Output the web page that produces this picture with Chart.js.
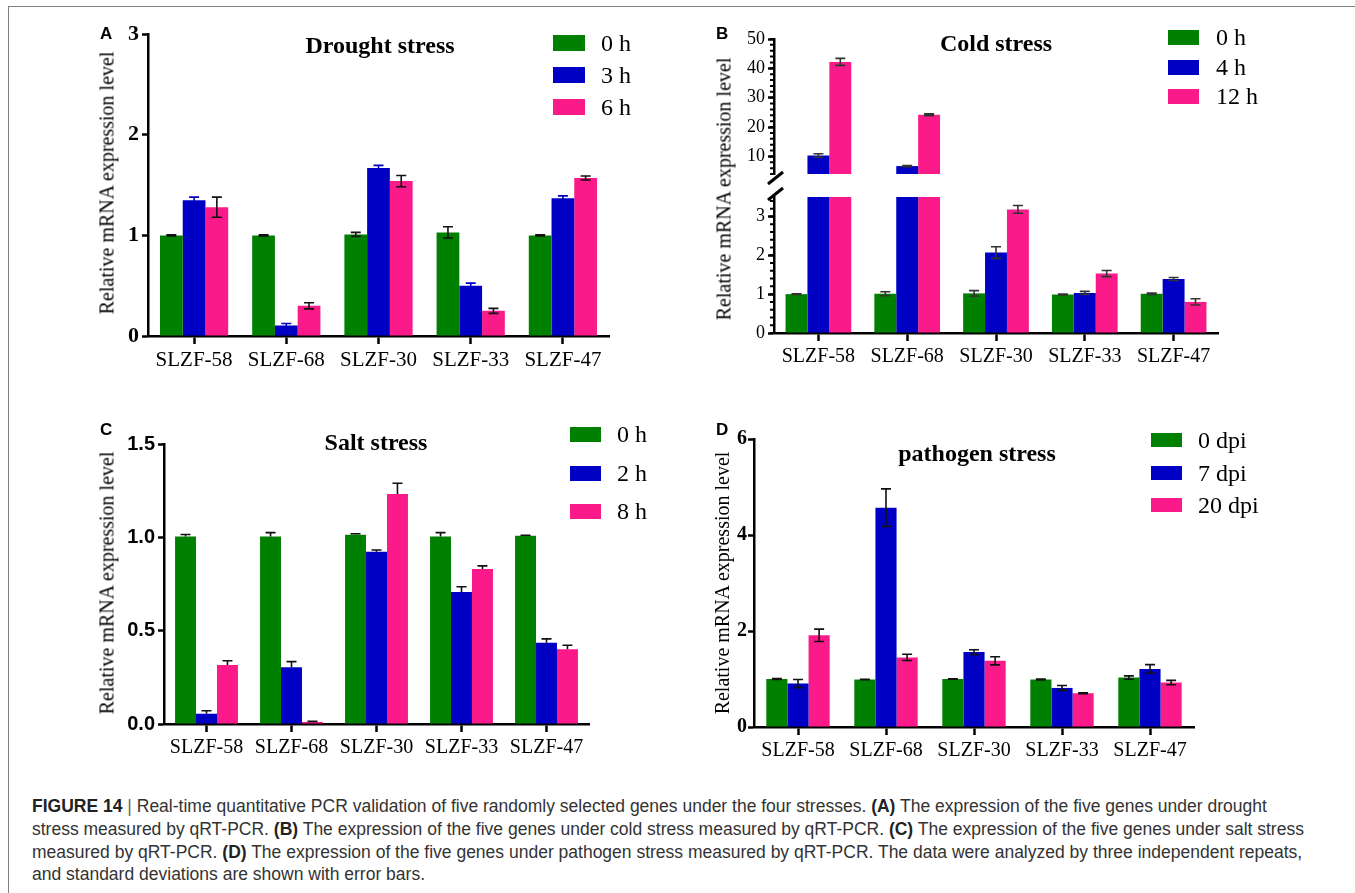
<!DOCTYPE html>
<html lang="en">
<head>
<meta charset="UTF-8">
<title>Figure 14 - qRT-PCR validation under four stresses</title>
<script src="https://cdn.jsdelivr.net/npm/chart.js"></script>
<style>
  body { margin: 0; background: #fff; }
  #fig { position: relative; width: 1355px; height: 893px; overflow: hidden; background: #fff; }
  #fig canvas { position: absolute; }
  .txt { position: absolute; white-space: nowrap; color: #000; }
  .letter { font: bold 17px "Liberation Sans", Arial, sans-serif; }
  .title { font: bold 24px "Liberation Serif", "Times New Roman", serif; transform: translate(-50%, -50%); }
  .ylab { font: 20px "Liberation Serif", "Times New Roman", serif; transform: translate(-50%, -50%) rotate(-90deg); }
  .leg { font: 24px "Liberation Serif", "Times New Roman", serif; transform: translateY(-50%); }
  .sw { position: absolute; }
  .rule { position: absolute; background: #808080; }
  #caption { position: absolute; left: 32px; top: 795px; font: 17.5px "Liberation Sans", Arial, sans-serif;
             line-height: 22.8px; color: #333; white-space: nowrap; }
  #caption b { color: #222; }
  #caption .pipe { color: #666; }
</style>
</head>
<body>
<div id="fig">
  <div class="rule" style="left:8px; top:6px; width:1347px; height:1px;"></div>
  <div class="rule" style="left:8px; top:6px; width:1px; height:887px;"></div>
  <div id="caption"><b>FIGURE 14</b> <span class="pipe">|</span> Real-time quantitative PCR validation of five randomly selected genes under the four stresses. <b>(A)</b> The expression of the five genes under drought<br>stress measured by qRT-PCR. <b>(B)</b> The expression of the five genes under cold stress measured by qRT-PCR. <b>(C)</b> The expression of the five genes under salt stress<br>measured by qRT-PCR. <b>(D)</b> The expression of the five genes under pathogen stress measured by qRT-PCR. The data were analyzed by three independent repeats,<br>and standard deviations are shown with error bars.</div>
</div>

<script>
// Genes on the x axis
const genes = ['SLZF-58', 'SLZF-68', 'SLZF-30', 'SLZF-33', 'SLZF-47'];

// (A) drought
const droughtLabels = ['0 h', '3 h', '6 h'];
const drought0h = [1.00, 1.00, 1.01, 1.03, 1.00];
const drought3h = [1.35, 0.105, 1.67, 0.50, 1.37];
const drought6h = [1.28, 0.30, 1.54, 0.25, 1.57];
const drought0hErr = [0.005, 0.005, 0.02, 0.056, 0.005];
const drought3hErr = [0.03, 0.02, 0.026, 0.026, 0.023];
const drought6hErr = [0.10, 0.03, 0.056, 0.025, 0.02];
const droughtTicks = [0, 1, 2, 3];

// (B) cold, broken y axis
const coldLabels = ['0 h', '4 h', '12 h'];
const cold0h = [1.00, 1.01, 1.02, 0.99, 1.01];
const cold4h = [10.3, 6.7, 2.07, 1.03, 1.39];
const cold12h = [42.2, 24.2, 3.18, 1.53, 0.80];
const cold0hErr = [0.01, 0.05, 0.07, 0.01, 0.02];
const cold4hErr = [0.6, 0.2, 0.15, 0.04, 0.04];
const cold12hErr = [1.2, 0.3, 0.1, 0.08, 0.08];
const coldHighTicks = [10, 20, 30, 40, 50];
const coldLowTicks = [0, 1, 2, 3];

// (C) salt
const saltLabels = ['0 h', '2 h', '8 h'];
const salt0h = [1.005, 1.005, 1.014, 1.005, 1.008];
const salt2h = [0.055, 0.304, 0.923, 0.707, 0.435];
const salt8h = [0.316, 0.011, 1.232, 0.831, 0.401];
const salt0hErr = [0.01, 0.02, 0.005, 0.02, 0.003];
const salt2hErr = [0.016, 0.03, 0.009, 0.028, 0.021];
const salt8hErr = [0.023, 0.003, 0.058, 0.016, 0.021];
const saltTicks = [0, 0.5, 1.0, 1.5];

// (D) pathogen
const pathLabels = ['0 dpi', '7 dpi', '20 dpi'];
const path0dpi = [1.00, 0.99, 1.00, 0.99, 1.03];
const path7dpi = [0.905, 4.57, 1.56, 0.814, 1.21];
const path20dpi = [1.91, 1.45, 1.38, 0.703, 0.926];
const path0dpiErr = [0.01, 0.005, 0.005, 0.01, 0.035];
const path7dpiErr = [0.085, 0.39, 0.05, 0.05, 0.09];
const path20dpiErr = [0.13, 0.066, 0.085, 0.01, 0.045];
const pathTicks = [0, 2, 4, 6];

const seriesColors = ['#008000', '#0000c4', '#fa1a8a'];
const serif = 'Liberation Serif, Times New Roman, serif';
const sans = 'Liberation Sans, Arial, sans-serif';

const fig = document.getElementById('fig');

function place(el, x, y) {
    el.style.left = x + 'px';
    el.style.top = y + 'px';
    fig.appendChild(el);
    return el;
}

function text(cls, str, x, y) {
    const el = document.createElement('div');
    el.className = 'txt ' + cls;
    el.textContent = str;
    return place(el, x, y);
}

function legend(labels, swX, rows, swW, swH, labelX) {
    labels.forEach((lab, i) => {
        const sw = document.createElement('div');
        sw.className = 'sw';
        sw.style.width = swW + 'px';
        sw.style.height = swH + 'px';
        sw.style.background = seriesColors[i];
        place(sw, swX, rows[i] - swH / 2);
        text('leg', lab, labelX, rows[i]);
    });
}

// error bars drawn from the y scale of each chart
const errorBars = {
    id: 'errorBars',
    afterDatasetsDraw(chart, args, opts) {
        const { ctx, chartArea: a } = chart;
        const y = chart.scales.y;
        ctx.save();
        ctx.beginPath();
        ctx.rect(a.left, a.top - 3, a.right - a.left, a.bottom - a.top + 3);
        ctx.clip();
        ctx.lineWidth = opts.width;
        chart.data.datasets.forEach((ds, di) => {
            const meta = chart.getDatasetMeta(di);
            ctx.strokeStyle = ds.errColor;
            meta.data.forEach((bar, i) => {
                const v = ds.data[i], e = ds.err[i];
                const yt = y.getPixelForValue(v + e);
                const yb = y.getPixelForValue(opts.upOnly ? v : v - e);
                const w = opts.cap / 2;
                ctx.beginPath();
                ctx.moveTo(bar.x, yt); ctx.lineTo(bar.x, yb);
                ctx.moveTo(bar.x - w, yt); ctx.lineTo(bar.x + w, yt);
                if (!opts.upOnly) { ctx.moveTo(bar.x - w, yb); ctx.lineTo(bar.x + w, yb); }
                ctx.stroke();
            });
        });
        ctx.restore();
    }
};

// minor ticks and axis-break slash for the cold panel
const axisExtras = {
    id: 'axisExtras',
    afterDraw(chart, args, opts) {
        const { ctx, chartArea: a } = chart;
        const y = chart.scales.y;
        ctx.save();
        ctx.strokeStyle = '#000';
        if (opts.minorStep) {
            ctx.lineWidth = 2;
            ctx.beginPath();
            for (let v = y.min; v <= y.max + 1e-9; v += opts.minorStep) {
                const py = y.getPixelForValue(v);
                ctx.moveTo(a.left - 4, py);
                ctx.lineTo(a.left, py);
            }
            ctx.stroke();
        }
        if (opts.breakMark) {
            const by = opts.breakMark === 'bottom' ? a.bottom + 4 : a.top - 3;
            ctx.lineWidth = 3;
            ctx.beginPath();
            ctx.moveTo(a.left - 6, by + 6);
            ctx.lineTo(a.left + 9, by - 6);
            ctx.stroke();
        }
        ctx.restore();
    }
};

function barChart(area, cfg) {
    const canvas = document.createElement('canvas');
    const padT = cfg.padT, padB = cfg.padB || 0, xH = cfg.xH || 0;
    const left = area.l - cfg.yW, top = area.t - padT;
    canvas.width = area.r + 8 - left;
    canvas.height = area.b + xH + padB - top;
    canvas.style.left = left + 'px';
    canvas.style.top = top + 'px';
    fig.appendChild(canvas);

    return new Chart(canvas, {
        type: 'bar',
        data: {
            labels: genes,
            datasets: cfg.series.map((s, i) => ({
                label: cfg.labels[i],
                data: s,
                err: cfg.errs[i],
                errColor: cfg.errColors ? cfg.errColors[i] : '#111',
                backgroundColor: seriesColors[i],
                borderWidth: 0,
                categoryPercentage: cfg.catPct,
                barPercentage: 1,
                clip: 0
            }))
        },
        options: {
            responsive: false,
            animation: false,
            events: [],
            layout: { padding: { top: padT, right: 8, bottom: padB, left: 0 } },
            plugins: {
                legend: { display: false },
                tooltip: { enabled: false },
                errorBars: { upOnly: !!cfg.upOnly, cap: 10, width: 1.6 },
                axisExtras: { minorStep: cfg.minorStep, breakMark: cfg.breakMark }
            },
            scales: {
                x: {
                    display: xH > 0,
                    offset: true,
                    afterFit: s => { s.height = xH; },
                    border: { display: true, color: '#000', width: 2.5 },
                    grid: { drawOnChartArea: false, offset: false, tickLength: 8, tickWidth: 2.5, tickColor: '#000' },
                    ticks: { color: '#000', padding: 4, maxRotation: 0, autoSkip: false,
                             font: { family: serif, size: cfg.xFont || 20 } }
                },
                y: {
                    min: cfg.min,
                    max: cfg.max,
                    afterFit: s => { s.width = cfg.yW; },
                    afterBuildTicks: s => { s.ticks = cfg.ticks.map(v => ({ value: v })); },
                    border: { display: true, color: '#000', width: 2.5 },
                    grid: { drawOnChartArea: false, tickLength: 6, tickWidth: 2.5, tickColor: '#000' },
                    ticks: { color: '#000', padding: cfg.yPad == null ? 3 : cfg.yPad, font: cfg.yFont,
                             callback: cfg.fmt || (v => String(v)) }
                }
            }
        },
        plugins: [errorBars, axisExtras]
    });
}

// ---- (A) Drought stress ----
barChart({ l: 148, t: 32, r: 609, b: 336 }, {
    yW: 50, xH: 44, padT: 14, catPct: 0.74, xFont: 21,
    min: 0, max: 3, ticks: droughtTicks,
    yFont: { family: serif, size: 22, weight: 'bold' },
    labels: droughtLabels,
    series: [drought0h, drought3h, drought6h],
    errs: [drought0hErr, drought3hErr, drought6hErr],
    errColors: ['#111', '#0000c4', '#111']
});
text('letter', 'A', 100, 24);
text('title', 'Drought stress', 380, 45);
text('ylab', 'Relative mRNA expression level', 107, 183);
legend(droughtLabels, 553, [43, 75, 107], 32, 16, 601);

// ---- (B) Cold stress: upper and lower segments ----
barChart({ l: 774, t: 39, r: 1218, b: 174 }, {
    yW: 50, xH: 0, padT: 14, padB: 16, catPct: 0.74,
    min: 4, max: 50, ticks: coldHighTicks,
    yFont: { family: serif, size: 18 },
    labels: coldLabels,
    series: [cold0h, cold4h, cold12h],
    errs: [cold0hErr, cold4hErr, cold12hErr],
    errColors: ['#333', '#333', '#333'],
    minorStep: 2, breakMark: 'bottom'
});
barChart({ l: 774, t: 197, r: 1218, b: 333 }, {
    yW: 50, xH: 44, padT: 14, catPct: 0.74,
    min: 0, max: 3.5, ticks: coldLowTicks,
    yFont: { family: serif, size: 18 },
    labels: coldLabels,
    series: [cold0h, cold4h, cold12h],
    errs: [cold0hErr, cold4hErr, cold12hErr],
    errColors: ['#333', '#333', '#333'],
    minorStep: 0.2, breakMark: 'top'
});
text('letter', 'B', 716, 24);
text('title', 'Cold stress', 996, 43);
text('ylab', 'Relative mRNA expression level', 724, 189);
legend(coldLabels, 1168, [37, 67, 96], 31, 15, 1216);

// ---- (C) Salt stress ----
barChart({ l: 164, t: 443, r: 589, b: 724 }, {
    yW: 60, xH: 44, padT: 14, catPct: 0.74,
    min: 0, max: 1.5, ticks: saltTicks,
    yFont: { family: sans, size: 20, weight: 'bold' },
    fmt: v => v.toFixed(1),
    labels: saltLabels,
    series: [salt0h, salt2h, salt8h],
    errs: [salt0hErr, salt2hErr, salt8hErr],
    upOnly: true
});
text('letter', 'C', 100, 420);
text('title', 'Salt stress', 376, 442);
text('ylab', 'Relative mRNA expression level', 107, 583);
legend(saltLabels, 570, [434, 473, 511], 31, 15, 617);

// ---- (D) Pathogen stress ----
barChart({ l: 754, t: 439, r: 1194, b: 727 }, {
    yW: 50, xH: 44, padT: 14, catPct: 0.72,
    min: 0, max: 6, ticks: pathTicks, yPad: 1,
    yFont: { family: serif, size: 20, weight: 'bold' },
    labels: pathLabels,
    series: [path0dpi, path7dpi, path20dpi],
    errs: [path0dpiErr, path7dpiErr, path20dpiErr]
});
text('letter', 'D', 716, 420);
text('title', 'pathogen stress', 977, 453);
text('ylab', 'Relative mRNA expression level', 722, 583);
legend(pathLabels, 1151, [440, 473, 505], 31, 14, 1198);
</script>
</body>
</html>
